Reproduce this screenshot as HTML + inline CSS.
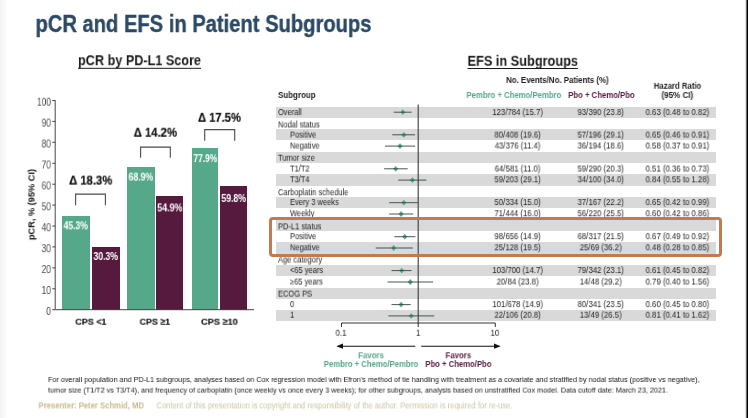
<!DOCTYPE html><html><head><meta charset="utf-8"><title>pCR and EFS in Patient Subgroups</title><style>
html,body{margin:0;padding:0;background:#fff}body{width:748px;height:418px;position:relative;overflow:hidden;font-family:"Liberation Sans",sans-serif}
.t{position:absolute;left:0;top:0;white-space:nowrap;line-height:normal;transform-origin:0 0;will-change:transform}
.bar{position:absolute}
</style></head><body>
<div style="position:absolute;left:0;top:0;width:8px;height:418px;background:linear-gradient(to right,#f2f2f2,#ffffff)"></div>
<div style="position:absolute;left:745px;top:0;width:1px;height:418px;background:#e2e2e2"></div><div style="position:absolute;left:746px;top:0;width:1px;height:418px;background:#6e6e6e"></div><div style="position:absolute;left:747px;top:0;width:1px;height:418px;background:#000"></div>
<div style="position:absolute;left:275.7px;top:106.50px;width:440.1px;height:11.20px;background:#d9d9d9"></div>
<div style="position:absolute;left:275.7px;top:129.14px;width:440.1px;height:11.20px;background:#d9d9d9"></div>
<div style="position:absolute;left:275.7px;top:151.78px;width:440.1px;height:11.20px;background:#d9d9d9"></div>
<div style="position:absolute;left:275.7px;top:174.42px;width:440.1px;height:11.20px;background:#d9d9d9"></div>
<div style="position:absolute;left:275.7px;top:197.06px;width:440.1px;height:11.20px;background:#d9d9d9"></div>
<div style="position:absolute;left:275.7px;top:219.70px;width:440.1px;height:11.20px;background:#d9d9d9"></div>
<div style="position:absolute;left:275.7px;top:242.34px;width:440.1px;height:11.20px;background:#d9d9d9"></div>
<div style="position:absolute;left:275.7px;top:264.98px;width:440.1px;height:11.20px;background:#d9d9d9"></div>
<div style="position:absolute;left:275.7px;top:287.62px;width:440.1px;height:11.20px;background:#d9d9d9"></div>
<div style="position:absolute;left:275.7px;top:310.26px;width:440.1px;height:10.30px;background:#d9d9d9"></div>
<div class="bar" style="left:61.9px;top:216.0px;width:28.2px;height:93.7px;background:#55a88a"></div>
<div class="bar" style="left:91.5px;top:247.1px;width:28.5px;height:62.6px;background:#571a3f"></div>
<div class="bar" style="left:127.2px;top:166.9px;width:27.4px;height:142.8px;background:#55a88a"></div>
<div class="bar" style="left:156.4px;top:196.2px;width:27.1px;height:113.5px;background:#571a3f"></div>
<div class="bar" style="left:191.7px;top:148.1px;width:26.6px;height:161.6px;background:#55a88a"></div>
<div class="bar" style="left:220.3px;top:185.9px;width:26.9px;height:123.8px;background:#571a3f"></div>
<svg width="748" height="418" viewBox="0 0 748 418" style="position:absolute;left:0;top:0"><path d="M400.3 112.2 L402.8 109.3 L405.3 112.2 L402.8 115.1Z" fill="#50ab8d"/><line x1="393.7" y1="112.2" x2="411.6" y2="112.2" stroke="#35453f" stroke-width="1" opacity="0.9"/><path d="M401.3 134.8 L403.8 131.9 L406.3 134.8 L403.8 137.7Z" fill="#50ab8d"/><line x1="392.3" y1="134.8" x2="415.1" y2="134.8" stroke="#35453f" stroke-width="1" opacity="0.9"/><path d="M397.5 146.1 L400.0 143.2 L402.5 146.1 L400.0 149.0Z" fill="#50ab8d"/><line x1="385.0" y1="146.1" x2="415.1" y2="146.1" stroke="#35453f" stroke-width="1" opacity="0.9"/><path d="M393.2 168.8 L395.7 165.9 L398.2 168.8 L395.7 171.7Z" fill="#50ab8d"/><line x1="384.1" y1="168.8" x2="407.7" y2="168.8" stroke="#35453f" stroke-width="1" opacity="0.9"/><path d="M409.9 180.1 L412.4 177.2 L414.9 180.1 L412.4 183.0Z" fill="#50ab8d"/><line x1="398.2" y1="180.1" x2="426.4" y2="180.1" stroke="#35453f" stroke-width="1" opacity="0.9"/><path d="M401.3 202.7 L403.8 199.8 L406.3 202.7 L403.8 205.6Z" fill="#50ab8d"/><line x1="389.2" y1="202.7" x2="417.9" y2="202.7" stroke="#35453f" stroke-width="1" opacity="0.9"/><path d="M398.6 214.0 L401.1 211.1 L403.6 214.0 L401.1 216.9Z" fill="#50ab8d"/><line x1="389.2" y1="214.0" x2="413.2" y2="214.0" stroke="#35453f" stroke-width="1" opacity="0.9"/><path d="M402.3 236.7 L404.8 233.8 L407.3 236.7 L404.8 239.6Z" fill="#50ab8d"/><line x1="394.4" y1="236.7" x2="415.4" y2="236.7" stroke="#35453f" stroke-width="1" opacity="0.9"/><path d="M391.2 248.0 L393.7 245.1 L396.2 248.0 L393.7 250.9Z" fill="#50ab8d"/><line x1="375.7" y1="248.0" x2="412.8" y2="248.0" stroke="#35453f" stroke-width="1" opacity="0.9"/><path d="M399.2 270.6 L401.7 267.7 L404.2 270.6 L401.7 273.5Z" fill="#50ab8d"/><line x1="391.5" y1="270.6" x2="411.6" y2="270.6" stroke="#35453f" stroke-width="1" opacity="0.9"/><path d="M407.8 282.0 L410.3 279.1 L412.8 282.0 L410.3 284.9Z" fill="#50ab8d"/><line x1="387.6" y1="282.0" x2="433.1" y2="282.0" stroke="#35453f" stroke-width="1" opacity="0.9"/><path d="M398.6 304.6 L401.1 301.7 L403.6 304.6 L401.1 307.5Z" fill="#50ab8d"/><line x1="391.5" y1="304.6" x2="410.7" y2="304.6" stroke="#35453f" stroke-width="1" opacity="0.9"/><path d="M408.7 315.9 L411.2 313.0 L413.7 315.9 L411.2 318.8Z" fill="#50ab8d"/><line x1="388.4" y1="315.9" x2="434.3" y2="315.9" stroke="#35453f" stroke-width="1" opacity="0.9"/><path d="M55.2 100.3 V309.7 H254" fill="none" stroke="#444" stroke-width="1"/><line x1="52.3" y1="309.7" x2="55.2" y2="309.7" stroke="#444" stroke-width="1"/><line x1="52.3" y1="288.8" x2="55.2" y2="288.8" stroke="#444" stroke-width="1"/><line x1="52.3" y1="267.9" x2="55.2" y2="267.9" stroke="#444" stroke-width="1"/><line x1="52.3" y1="246.9" x2="55.2" y2="246.9" stroke="#444" stroke-width="1"/><line x1="52.3" y1="226.0" x2="55.2" y2="226.0" stroke="#444" stroke-width="1"/><line x1="52.3" y1="205.1" x2="55.2" y2="205.1" stroke="#444" stroke-width="1"/><line x1="52.3" y1="184.2" x2="55.2" y2="184.2" stroke="#444" stroke-width="1"/><line x1="52.3" y1="163.3" x2="55.2" y2="163.3" stroke="#444" stroke-width="1"/><line x1="52.3" y1="142.3" x2="55.2" y2="142.3" stroke="#444" stroke-width="1"/><line x1="52.3" y1="121.4" x2="55.2" y2="121.4" stroke="#444" stroke-width="1"/><line x1="52.3" y1="100.5" x2="55.2" y2="100.5" stroke="#444" stroke-width="1"/><path d="M75.6 205.2 V194.1 H105.4 V205.2" fill="none" stroke="#4a4a4a" stroke-width="1.1"/><path d="M140.6 157.7 V147.1 H170.3 V157.7" fill="none" stroke="#4a4a4a" stroke-width="1.1"/><path d="M204.7 140.8 V129.6 H234.7 V140.8" fill="none" stroke="#4a4a4a" stroke-width="1.1"/><line x1="418.2" y1="104.5" x2="418.2" y2="327" stroke="#3a3a3a" stroke-width="1.1"/><path d="M341.5 327 V323 H495.3 V327" fill="none" stroke="#333" stroke-width="1"/><line x1="340" y1="346.2" x2="415.3" y2="346.2" stroke="#111" stroke-width="1.1"/><path d="M336.3 346.2 L343 343.6 V348.8Z" fill="#111"/><line x1="421.2" y1="346.2" x2="497" y2="346.2" stroke="#111" stroke-width="1.1"/><path d="M500.8 346.2 L494 343.6 V348.8Z" fill="#111"/><line x1="78" y1="68.3" x2="201" y2="68.3" stroke="#1a1a1a" stroke-width="1"/><line x1="467.5" y1="68.5" x2="578" y2="68.5" stroke="#1a1a1a" stroke-width="1"/></svg>
<div class="t" style="font-size:23.4px;color:#2c4a64;transform:translate(35.50px,11.00px) scaleX(0.8618);font-weight:bold;-webkit-text-stroke:0.35px #2c4a64;">pCR and EFS in Patient Subgroups</div>
<div class="t" style="font-size:14px;color:#1a1a1a;transform:translate(78.00px,52.20px) scaleX(0.9035);font-weight:bold;">pCR by PD-L1 Score</div>
<div class="t" style="font-size:14.2px;color:#1a1a1a;transform:translate(467.50px,52.80px) scaleX(0.8986);font-weight:bold;">EFS in Subgroups</div>
<div class="t" style="font-size:10.3px;color:#444;transform:translate(46.26px,305.90px) scaleX(0.8100);">0</div>
<div class="t" style="font-size:10.3px;color:#444;transform:translate(41.61px,284.98px) scaleX(0.8100);">10</div>
<div class="t" style="font-size:10.3px;color:#444;transform:translate(41.61px,264.06px) scaleX(0.8100);">20</div>
<div class="t" style="font-size:10.3px;color:#444;transform:translate(41.61px,243.14px) scaleX(0.8100);">30</div>
<div class="t" style="font-size:10.3px;color:#444;transform:translate(41.61px,222.22px) scaleX(0.8100);">40</div>
<div class="t" style="font-size:10.3px;color:#444;transform:translate(41.61px,201.30px) scaleX(0.8100);">50</div>
<div class="t" style="font-size:10.3px;color:#444;transform:translate(41.61px,180.38px) scaleX(0.8100);">60</div>
<div class="t" style="font-size:10.3px;color:#444;transform:translate(41.61px,159.46px) scaleX(0.8100);">70</div>
<div class="t" style="font-size:10.3px;color:#444;transform:translate(41.61px,138.54px) scaleX(0.8100);">80</div>
<div class="t" style="font-size:10.3px;color:#444;transform:translate(41.61px,117.62px) scaleX(0.8100);">90</div>
<div class="t" style="font-size:10.3px;color:#444;transform:translate(36.98px,96.70px) scaleX(0.8100);">100</div>
<div class="t" style="font-size:9px;color:#111;transform:translate(26.50px,240.10px) rotate(-90deg) scaleX(1.0228);font-weight:bold;">pCR, % (95% CI)</div>
<div class="t" style="font-size:12.3px;color:#111;transform:translate(69.10px,173.60px) scaleX(0.9167);font-weight:bold;-webkit-text-stroke:0.2px #111;">Δ 18.3%</div>
<div class="t" style="font-size:12.3px;color:#111;transform:translate(133.70px,125.70px) scaleX(0.9188);font-weight:bold;-webkit-text-stroke:0.2px #111;">Δ 14.2%</div>
<div class="t" style="font-size:12.3px;color:#111;transform:translate(198.00px,110.80px) scaleX(0.9103);font-weight:bold;-webkit-text-stroke:0.2px #111;">Δ 17.5%</div>
<div class="t" style="font-size:10.3px;color:#fff;transform:translate(63.60px,220.30px) scaleX(0.8321);font-weight:bold;">45.3%</div>
<div class="t" style="font-size:10.3px;color:#fff;transform:translate(93.50px,251.00px) scaleX(0.8390);font-weight:bold;">30.3%</div>
<div class="t" style="font-size:10.3px;color:#fff;transform:translate(128.60px,171.60px) scaleX(0.8424);font-weight:bold;">68.9%</div>
<div class="t" style="font-size:10.3px;color:#fff;transform:translate(157.30px,202.40px) scaleX(0.8595);font-weight:bold;">54.9%</div>
<div class="t" style="font-size:10.3px;color:#fff;transform:translate(193.40px,153.10px) scaleX(0.8184);font-weight:bold;">77.9%</div>
<div class="t" style="font-size:10.3px;color:#fff;transform:translate(221.40px,192.90px) scaleX(0.8424);font-weight:bold;">59.8%</div>
<div class="t" style="font-size:9.4px;color:#151515;transform:translate(75.30px,315.70px) scaleX(0.9577);font-weight:bold;-webkit-text-stroke:0.15px #151515;">CPS &lt;1</div>
<div class="t" style="font-size:9.4px;color:#151515;transform:translate(139.60px,315.70px) scaleX(0.9457);font-weight:bold;-webkit-text-stroke:0.15px #151515;">CPS ≥1</div>
<div class="t" style="font-size:9.4px;color:#151515;transform:translate(201.00px,315.70px) scaleX(0.9822);font-weight:bold;-webkit-text-stroke:0.15px #151515;">CPS ≥10</div>
<div class="t" style="font-size:8.2px;color:#1c1c1c;transform:translate(278.00px,108.06px) scaleX(0.9150);">Overall</div>
<div class="t" style="font-size:8.2px;color:#1c1c1c;transform:translate(492.30px,108.06px) scaleX(0.9500);">123/784 (15.7)</div>
<div class="t" style="font-size:8.2px;color:#1c1c1c;transform:translate(577.56px,108.06px) scaleX(0.9500);">93/390 (23.8)</div>
<div class="t" style="font-size:8.2px;color:#1c1c1c;transform:translate(645.61px,108.06px) scaleX(0.9500);">0.63 (0.48 to 0.82)</div>
<div class="t" style="font-size:8.2px;color:#1c1c1c;transform:translate(278.00px,120.48px) scaleX(0.9150);">Nodal status</div>
<div class="t" style="font-size:8.2px;color:#1c1c1c;transform:translate(290.00px,130.60px) scaleX(0.9150);">Positive</div>
<div class="t" style="font-size:8.2px;color:#1c1c1c;transform:translate(494.46px,130.60px) scaleX(0.9500);">80/408 (19.6)</div>
<div class="t" style="font-size:8.2px;color:#1c1c1c;transform:translate(577.56px,130.60px) scaleX(0.9500);">57/196 (29.1)</div>
<div class="t" style="font-size:8.2px;color:#1c1c1c;transform:translate(645.61px,130.60px) scaleX(0.9500);">0.65 (0.46 to 0.91)</div>
<div class="t" style="font-size:8.2px;color:#1c1c1c;transform:translate(290.00px,141.52px) scaleX(0.9150);">Negative</div>
<div class="t" style="font-size:8.2px;color:#1c1c1c;transform:translate(494.75px,141.52px) scaleX(0.9500);">43/376 (11.4)</div>
<div class="t" style="font-size:8.2px;color:#1c1c1c;transform:translate(577.56px,141.52px) scaleX(0.9500);">36/194 (18.6)</div>
<div class="t" style="font-size:8.2px;color:#1c1c1c;transform:translate(645.61px,141.52px) scaleX(0.9500);">0.58 (0.37 to 0.91)</div>
<div class="t" style="font-size:8.2px;color:#1c1c1c;transform:translate(278.00px,153.74px) scaleX(0.9150);">Tumor size</div>
<div class="t" style="font-size:8.2px;color:#1c1c1c;transform:translate(290.00px,164.56px) scaleX(0.9150);">T1/T2</div>
<div class="t" style="font-size:8.2px;color:#1c1c1c;transform:translate(494.75px,164.56px) scaleX(0.9500);">64/581 (11.0)</div>
<div class="t" style="font-size:8.2px;color:#1c1c1c;transform:translate(577.56px,164.56px) scaleX(0.9500);">59/290 (20.3)</div>
<div class="t" style="font-size:8.2px;color:#1c1c1c;transform:translate(645.61px,164.56px) scaleX(0.9500);">0.51 (0.36 to 0.73)</div>
<div class="t" style="font-size:8.2px;color:#1c1c1c;transform:translate(290.00px,175.28px) scaleX(0.9150);">T3/T4</div>
<div class="t" style="font-size:8.2px;color:#1c1c1c;transform:translate(494.46px,175.28px) scaleX(0.9500);">59/203 (29.1)</div>
<div class="t" style="font-size:8.2px;color:#1c1c1c;transform:translate(577.56px,175.28px) scaleX(0.9500);">34/100 (34.0)</div>
<div class="t" style="font-size:8.2px;color:#1c1c1c;transform:translate(645.61px,175.28px) scaleX(0.9500);">0.84 (0.55 to 1.28)</div>
<div class="t" style="font-size:8.2px;color:#1c1c1c;transform:translate(278.00px,188.20px) scaleX(0.9150);">Carboplatin schedule</div>
<div class="t" style="font-size:8.2px;color:#1c1c1c;transform:translate(290.00px,198.02px) scaleX(0.9150);">Every 3 weeks</div>
<div class="t" style="font-size:8.2px;color:#1c1c1c;transform:translate(494.46px,198.02px) scaleX(0.9500);">50/334 (15.0)</div>
<div class="t" style="font-size:8.2px;color:#1c1c1c;transform:translate(577.56px,198.02px) scaleX(0.9500);">37/167 (22.2)</div>
<div class="t" style="font-size:8.2px;color:#1c1c1c;transform:translate(645.61px,198.02px) scaleX(0.9500);">0.65 (0.42 to 0.99)</div>
<div class="t" style="font-size:8.2px;color:#1c1c1c;transform:translate(290.00px,209.24px) scaleX(0.9150);">Weekly</div>
<div class="t" style="font-size:8.2px;color:#1c1c1c;transform:translate(494.46px,209.24px) scaleX(0.9500);">71/444 (16.0)</div>
<div class="t" style="font-size:8.2px;color:#1c1c1c;transform:translate(577.56px,209.24px) scaleX(0.9500);">56/220 (25.5)</div>
<div class="t" style="font-size:8.2px;color:#1c1c1c;transform:translate(645.61px,209.24px) scaleX(0.9500);">0.60 (0.42 to 0.86)</div>
<div class="t" style="font-size:8.2px;color:#1c1c1c;transform:translate(278.00px,222.36px) scaleX(0.9150);">PD-L1 status</div>
<div class="t" style="font-size:8.2px;color:#1c1c1c;transform:translate(290.00px,232.18px) scaleX(0.9150);">Positive</div>
<div class="t" style="font-size:8.2px;color:#1c1c1c;transform:translate(494.46px,232.18px) scaleX(0.9500);">98/656 (14.9)</div>
<div class="t" style="font-size:8.2px;color:#1c1c1c;transform:translate(577.56px,232.18px) scaleX(0.9500);">68/317 (21.5)</div>
<div class="t" style="font-size:8.2px;color:#1c1c1c;transform:translate(645.61px,232.18px) scaleX(0.9500);">0.67 (0.49 to 0.92)</div>
<div class="t" style="font-size:8.2px;color:#1c1c1c;transform:translate(290.00px,243.30px) scaleX(0.9150);">Negative</div>
<div class="t" style="font-size:8.2px;color:#1c1c1c;transform:translate(494.46px,243.30px) scaleX(0.9500);">25/128 (19.5)</div>
<div class="t" style="font-size:8.2px;color:#1c1c1c;transform:translate(579.73px,243.30px) scaleX(0.9500);">25/69 (36.2)</div>
<div class="t" style="font-size:8.2px;color:#1c1c1c;transform:translate(645.61px,243.30px) scaleX(0.9500);">0.48 (0.28 to 0.85)</div>
<div class="t" style="font-size:8.2px;color:#1c1c1c;transform:translate(278.00px,255.52px) scaleX(0.9150);">Age category</div>
<div class="t" style="font-size:8.2px;color:#1c1c1c;transform:translate(290.00px,266.04px) scaleX(0.9150);">&lt;65 years</div>
<div class="t" style="font-size:8.2px;color:#1c1c1c;transform:translate(492.30px,266.04px) scaleX(0.9500);">103/700 (14.7)</div>
<div class="t" style="font-size:8.2px;color:#1c1c1c;transform:translate(577.56px,266.04px) scaleX(0.9500);">79/342 (23.1)</div>
<div class="t" style="font-size:8.2px;color:#1c1c1c;transform:translate(645.61px,266.04px) scaleX(0.9500);">0.61 (0.45 to 0.82)</div>
<div class="t" style="font-size:8.2px;color:#1c1c1c;transform:translate(290.00px,277.56px) scaleX(0.9150);">≥65 years</div>
<div class="t" style="font-size:8.2px;color:#1c1c1c;transform:translate(496.63px,277.56px) scaleX(0.9500);">20/84 (23.8)</div>
<div class="t" style="font-size:8.2px;color:#1c1c1c;transform:translate(579.73px,277.56px) scaleX(0.9500);">14/48 (29.2)</div>
<div class="t" style="font-size:8.2px;color:#1c1c1c;transform:translate(645.61px,277.56px) scaleX(0.9500);">0.79 (0.40 to 1.56)</div>
<div class="t" style="font-size:8.2px;color:#1c1c1c;transform:translate(278.00px,289.58px) scaleX(0.9150);">ECOG PS</div>
<div class="t" style="font-size:8.2px;color:#1c1c1c;transform:translate(290.00px,300.10px) scaleX(0.9150);">0</div>
<div class="t" style="font-size:8.2px;color:#1c1c1c;transform:translate(492.30px,300.10px) scaleX(0.9500);">101/678 (14.9)</div>
<div class="t" style="font-size:8.2px;color:#1c1c1c;transform:translate(577.56px,300.10px) scaleX(0.9500);">80/341 (23.5)</div>
<div class="t" style="font-size:8.2px;color:#1c1c1c;transform:translate(645.61px,300.10px) scaleX(0.9500);">0.60 (0.45 to 0.80)</div>
<div class="t" style="font-size:8.2px;color:#1c1c1c;transform:translate(290.00px,310.72px) scaleX(0.9150);">1</div>
<div class="t" style="font-size:8.2px;color:#1c1c1c;transform:translate(494.46px,310.72px) scaleX(0.9500);">22/106 (20.8)</div>
<div class="t" style="font-size:8.2px;color:#1c1c1c;transform:translate(579.73px,310.72px) scaleX(0.9500);">13/49 (26.5)</div>
<div class="t" style="font-size:8.2px;color:#1c1c1c;transform:translate(645.61px,310.72px) scaleX(0.9500);">0.81 (0.41 to 1.62)</div>
<div class="t" style="font-size:8.4px;color:#222;transform:translate(278.00px,90.00px) scaleX(0.9500);font-weight:bold;">Subgroup</div>
<div class="t" style="font-size:8.4px;color:#222;transform:translate(506.10px,75.00px) scaleX(0.9382);font-weight:bold;">No. Events/No. Patients (%)</div>
<div class="t" style="font-size:8.4px;color:#55a88a;transform:translate(466.50px,90.00px) scaleX(0.9228);font-weight:bold;">Pembro + Chemo/Pembro</div>
<div class="t" style="font-size:8.4px;color:#571a3f;transform:translate(568.20px,90.00px) scaleX(0.9248);font-weight:bold;">Pbo + Chemo/Pbo</div>
<div class="t" style="font-size:8.4px;color:#222;transform:translate(653.80px,80.80px) scaleX(0.9277);font-weight:bold;">Hazard Ratio</div>
<div class="t" style="font-size:8.4px;color:#222;transform:translate(661.50px,90.00px) scaleX(0.9592);font-weight:bold;">(95% CI)</div>
<div class="t" style="font-size:8.7px;color:#1c1c1c;transform:translate(335.56px,327.80px) scaleX(0.9000);">0.1</div>
<div class="t" style="font-size:8.7px;color:#1c1c1c;transform:translate(416.02px,327.80px) scaleX(0.9000);">1</div>
<div class="t" style="font-size:8.7px;color:#1c1c1c;transform:translate(490.55px,327.80px) scaleX(0.9000);">10</div>
<div class="t" style="font-size:8.5px;color:#55a88a;transform:translate(358.18px,350.30px) scaleX(0.9200);font-weight:bold;">Favors</div>
<div class="t" style="font-size:8.5px;color:#55a88a;transform:translate(323.80px,359.00px) scaleX(0.9063);font-weight:bold;">Pembro + Chemo/Pembro</div>
<div class="t" style="font-size:8.5px;color:#571a3f;transform:translate(445.48px,350.30px) scaleX(0.9200);font-weight:bold;">Favors</div>
<div class="t" style="font-size:8.5px;color:#571a3f;transform:translate(425.30px,359.00px) scaleX(0.9072);font-weight:bold;">Pbo + Chemo/Pbo</div>
<div class="t" style="font-size:7.9px;color:#151515;transform:translate(48.00px,375.00px) scaleX(0.9165);">For overall population and PD-L1 subgroups, analyses based on Cox regression model with Efron’s method of tie handling with treatment as a covariate and stratified by nodal status (positive vs negative),</div>
<div class="t" style="font-size:7.9px;color:#151515;transform:translate(48.00px,385.60px) scaleX(0.9165);">tumor size (T1/T2 vs T3/T4), and frequency of carboplatin (once weekly vs once every 3 weeks); for other subgroups, analysis based on unstratified Cox model. Data cutoff date: March 23, 2021.</div>
<div class="t" style="font-size:8.5px;color:#c6ba8b;transform:translate(38.50px,400.40px) scaleX(0.9041);font-weight:bold;">Presenter: Peter Schmid, MD</div>
<div class="t" style="font-size:8.5px;color:#cdc5a2;transform:translate(156.50px,400.40px) scaleX(0.8970);">Content of this presentation is copyright and responsibility of the author. Permission is required for re-use.</div>
<div style="position:absolute;left:269.2px;top:217.2px;width:447.3px;height:33.6px;border:3.5px solid #c27a50;border-radius:4px;box-sizing:content-box"></div>
</body></html>
